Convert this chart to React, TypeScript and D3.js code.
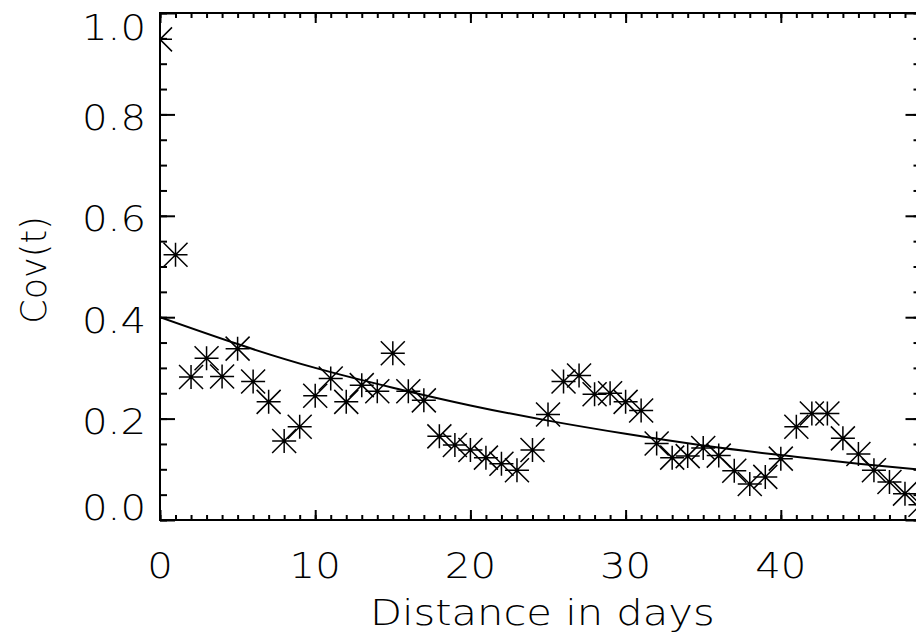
import React, { useRef, useEffect } from "react";
import * as d3 from "d3";

// data
const covValues = [
  0.948, 0.523, 0.282, 0.319, 0.283, 0.338, 0.273, 0.233, 0.156, 0.184,
  0.245, 0.279, 0.233, 0.266, 0.254, 0.329, 0.254, 0.236, 0.165, 0.148,
  0.138, 0.123, 0.111, 0.098, 0.138, 0.208, 0.273, 0.285, 0.248, 0.25,
  0.233, 0.216, 0.151, 0.123, 0.126, 0.142, 0.127, 0.097, 0.071, 0.085,
  0.121, 0.184, 0.21, 0.21, 0.161, 0.13, 0.098, 0.075, 0.052, 0.03,
];
// fitted decay curve
const fitDays = [0, 5, 10, 15, 20, 25, 30, 35, 40, 45, 49];
const fitValues = [0.4, 0.347, 0.3, 0.261, 0.226, 0.196, 0.17, 0.147, 0.128, 0.111, 0.099];

const xMajor = [0, 10, 20, 30, 40];
const yMajor = [0, 0.2, 0.4, 0.6, 0.8, 1.0];
const xMinor = d3.range(0, 50, 1);
const yMinor = d3.range(0, 1.0001, 0.05);

const W = 916;
const H = 642;
const FONT = "'DejaVu Sans', sans-serif";

const CovChart = () => {
  const svgRef = useRef<SVGSVGElement>(null);

  useEffect(() => {
    const svg = d3.select(svgRef.current);
    svg.selectAll("*").remove();

    //scales
    const x = d3.scaleLinear().domain([0, 49]).range([160, 920.5]);
    const y = d3.scaleLinear().domain([0, 1]).range([520, 13]);
    const [x0, x1] = x.range();
    const [yb, yt] = y.range();

    svg
      .append("clipPath")
      .attr("id", "plotclip")
      .append("rect")
      .attr("x", x0)
      .attr("y", yt)
      .attr("width", x1 - x0)
      .attr("height", yb - yt);

    //frame
    svg
      .append("rect")
      .attr("x", x0)
      .attr("y", yt)
      .attr("width", x1 - x0)
      .attr("height", yb - yt)
      .attr("fill", "none")
      .attr("stroke", "#000")
      .attr("stroke-width", 2);

    //ticks, IDL style: all pointing inward
    const tickGroup = (axis: any, tx: number, ty: number) => {
      const g = svg
        .append("g")
        .attr("transform", `translate(${tx},${ty})`)
        .call(axis);
      g.select(".domain").remove();
      g.selectAll("line").attr("stroke", "#000").attr("stroke-width", 2);
      g.selectAll("text").remove();
    };
    tickGroup(d3.axisTop(x).tickValues(xMinor).tickSize(5).tickSizeOuter(0), 0, yb);
    tickGroup(d3.axisTop(x).tickValues(xMajor).tickSize(10).tickSizeOuter(0), 0, yb);
    tickGroup(d3.axisBottom(x).tickValues(xMinor).tickSize(5).tickSizeOuter(0), 0, yt);
    tickGroup(d3.axisBottom(x).tickValues(xMajor).tickSize(10).tickSizeOuter(0), 0, yt);
    tickGroup(d3.axisRight(y).tickValues(yMinor).tickSize(7).tickSizeOuter(0), x0, 0);
    tickGroup(d3.axisRight(y).tickValues(yMajor).tickSize(15).tickSizeOuter(0), x0, 0);
    tickGroup(d3.axisLeft(y).tickValues(yMinor).tickSize(7).tickSizeOuter(0), x1, 0);
    tickGroup(d3.axisLeft(y).tickValues(yMajor).tickSize(15).tickSizeOuter(0), x1, 0);

    const txt = (sel: any) =>
      sel
        .attr("font-family", FONT)
        .attr("font-weight", 200)
        .attr("font-size", 35)
        .attr("fill", "#000");

    //tick labels (wider, Hershey-like)
    svg
      .selectAll(".ylab")
      .data(yMajor)
      .join("text")
      .attr("class", "ylab")
      .attr(
        "transform",
        (d) =>
          `translate(146,${Math.min(Math.max(y(d) + 3, yt + 14), yb - 13)}) scale(1.15,1)`
      )
      .attr("dy", "0.36em")
      .attr("text-anchor", "end")
      .call(txt)
      .text((d) => d.toFixed(1));

    svg
      .selectAll(".xlab")
      .data(xMajor)
      .join("text")
      .attr("class", "xlab")
      .attr("transform", (d) => `translate(${x(d)},578) scale(1.15,1)`)
      .attr("text-anchor", "middle")
      .call(txt)
      .text((d) => String(d));

    //axis titles
    svg
      .append("text")
      .attr("transform", `translate(${(x0 + x1) / 2 + 2},625) scale(1.19,1)`)
      .attr("text-anchor", "middle")
      .call(txt)
      .text("Distance in days");

    svg
      .append("text")
      .attr("transform", "translate(46,270) rotate(-90)")
      .attr("text-anchor", "middle")
      .call(txt)
      .text("Cov(t)");

    const plot = svg.append("g").attr("clip-path", "url(#plotclip)");

    //fit curve
    const fitLine = d3
      .line<number>()
      .x((d, i) => x(fitDays[i]))
      .y((d) => y(d))
      .curve(d3.curveNatural);
    plot
      .append("path")
      .datum(fitValues)
      .attr("d", fitLine)
      .attr("fill", "none")
      .attr("stroke", "#000")
      .attr("stroke-width", 2);

    //asterisks
    const r = 12;
    const star = `M${-r},0H${r}M0,${-r}V${r}M${-r},${-r}L${r},${r}M${-r},${r}L${r},${-r}`;
    plot
      .selectAll(".pt")
      .data(covValues)
      .join("path")
      .attr("class", "pt")
      .attr("transform", (d, i) => `translate(${x(i)},${y(d)})`)
      .attr("d", star)
      .attr("fill", "none")
      .attr("stroke", "#000")
      .attr("stroke-width", 1.5);
  }, []);

  return (
    <svg
      ref={svgRef}
      width={W}
      height={H}
      style={{ position: "absolute", left: 0, top: 0, background: "#fff" }}
    />
  );
};

export default function App() {
  return <CovChart />;
}
